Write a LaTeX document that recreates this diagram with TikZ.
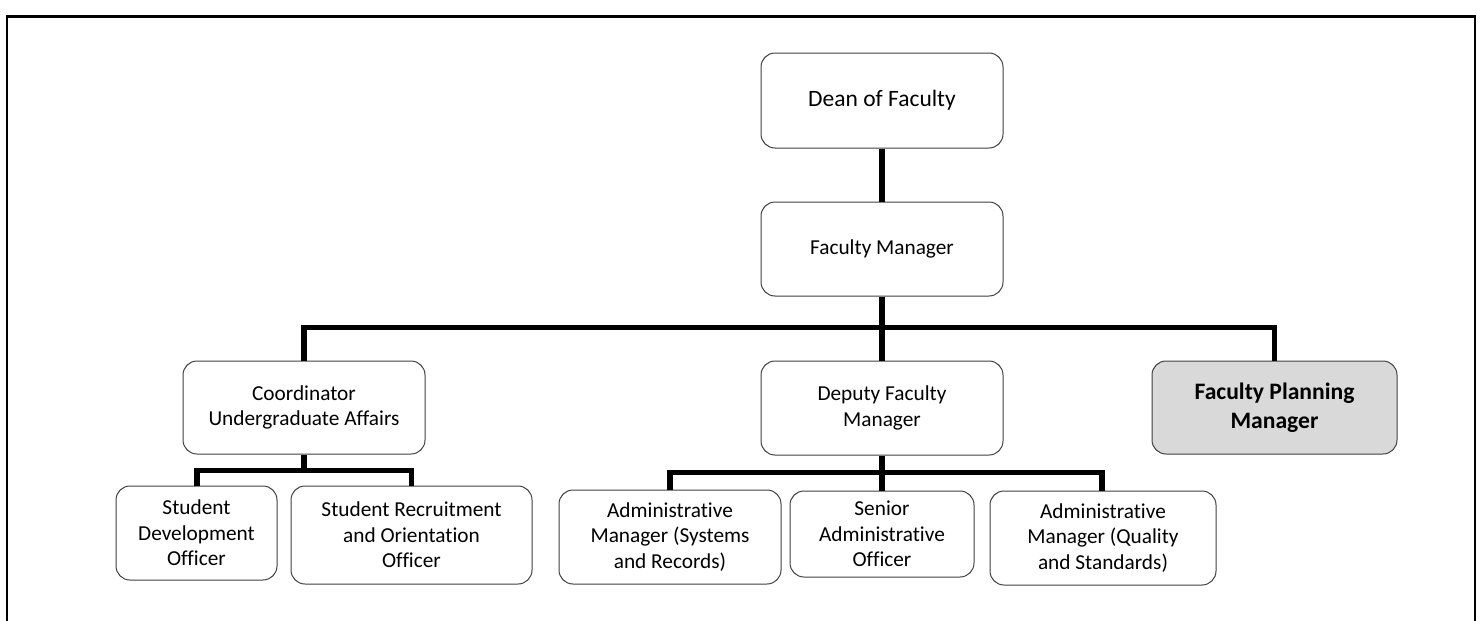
\documentclass[tikz,border=0pt]{standalone}
\usepackage{fontspec}
\setmainfont{Carlito}[RawFeature={-liga}]
\begin{document}
\begin{tikzpicture}[x=1pt,y=-1pt,
  box/.style={draw=black!75, line width=1pt, rounded corners=14pt, fill=white,
    align=center, inner sep=0pt, font=\fontsize{21.3}{25.5}\selectfont},
  hilite/.style={box, fill=black!15, font=\fontsize{23.6}{28.5}\selectfont\bfseries},
  link/.style={line width=5.3pt, black},
  frame/.style={line width=2.2pt, black}]
\useasboundingbox (0,0) rectangle (1481,621);
% frame (bottom runs off the page)
\coordinate (fBL) at (7,640);
\coordinate (fTL) at (7,16.5);
\coordinate (fTR) at (1475,16.5);
\coordinate (fBR) at (1475,640);
\draw[frame] (fBL) -- (fTL) -- (fTR) -- (fBR);
% nodes
\node[box, font=\fontsize{23.5}{28}\selectfont, minimum width=242pt, minimum height=95pt] (dean) at (882,100.5) {Dean of Faculty};
\node[box, minimum width=242pt, minimum height=94pt] (fm) at (882,249) {Faculty Manager};
\node[box, minimum width=242pt, minimum height=93pt] (cua) at (304,407.5) {Coordinator\\Undergraduate Affairs};
\node[box, minimum width=242pt, minimum height=94pt] (dfm) at (882,408) {Deputy Faculty\\Manager};
\node[hilite, minimum width=245pt, minimum height=93pt] (fpm) at (1274.5,407.5) {Faculty Planning\\Manager};
\node[box, minimum width=161pt, minimum height=94pt] (sdo) at (196.5,533) {Student\\Development\\Officer};
\node[box, minimum width=241pt, minimum height=98pt] (sro) at (411.5,535) {Student Recruitment\\and Orientation\\Officer};
\node[box, minimum width=222pt, minimum height=94pt] (ams) at (670,537) {Administrative\\Manager (Systems\\and Records)};
\node[box, minimum width=184pt, minimum height=86pt] (sao) at (882,534) {Senior\\Administrative\\Officer};
\node[box, minimum width=226pt, minimum height=94pt] (amq) at (1103,538) {Administrative\\Manager (Quality\\and Standards)};
% bar levels
\coordinate (bar1) at (882,327.5);
\coordinate (bar2) at (304,470.5);
\coordinate (bar3) at (882,472.5);
% connectors
\draw[link] (dean.south) -- (fm.north);
\draw[link] (fm.south) -- (bar1);
\draw[link] (bar1) -| (cua.north);
\draw[link] (bar1) -| (fpm.north);
\draw[link] (bar1) -- (dfm.north);
\draw[link] (cua.south) -- (bar2);
\draw[link] (bar2) -| ([xshift=0.5pt]sdo.north);
\draw[link] (bar2) -| (sro.north);
\draw[link] (dfm.south) -- (bar3);
\draw[link] (bar3) -| (ams.north);
\draw[link] (bar3) -| ([xshift=-1pt]amq.north);
\draw[link] (bar3) -- (sao.north);
\end{tikzpicture}
\end{document}
